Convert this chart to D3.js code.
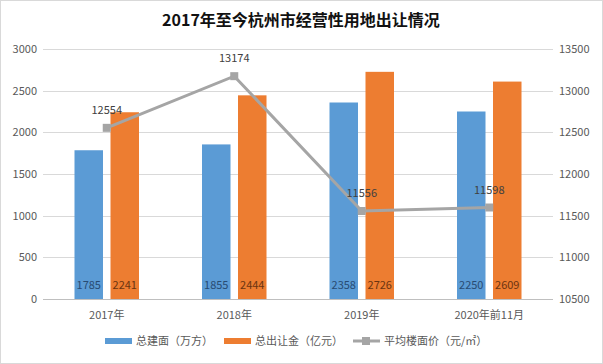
<!DOCTYPE html>
<html>
<head>
<meta charset="utf-8">
<script src="https://cdn.jsdelivr.net/npm/d3@7"></script>
<style>
  body { margin: 0; background: #fff; }
  svg text { font-family: "Noto Sans CJK SC", "DejaVu Sans", sans-serif; }
</style>
</head>
<body>
<svg class="chart" width="603" height="364"></svg>
<script>
// 数据
var categories = ['2017年', '2018年', '2019年', '2020年前11月'];
var area = [1785, 1855, 2358, 2250];      // 总建面（万方）
var money = [2241, 2444, 2726, 2609];     // 总出让金（亿元）
var price = [12554, 13174, 11556, 11598]; // 平均楼面价（元/㎡）
var leftTicks = [0, 500, 1000, 1500, 2000, 2500, 3000];
var rightTicks = [10500, 11000, 11500, 12000, 12500, 13000, 13500];

var svg = d3.select('svg.chart');
var m = { left: 43, right: 553, top: 49, bottom: 299 };

var x = d3.scaleBand().domain(categories).range([m.left, m.right]);
var yL = d3.scaleLinear().domain([0, 3000]).range([m.bottom, m.top]);
var yR = d3.scaleLinear().domain([10500, 13500]).range([m.bottom, m.top]);

var barW = 28.5, gap = 7.5;

// 外框
svg.append('rect')
    .attr('x', 0.5).attr('y', 0.5)
    .attr('width', 602).attr('height', 363)
    .attr('fill', '#fff')
    .attr('stroke', '#d9d9d9');

// 标题
svg.append('text')
    .attr('x', 301).attr('y', 26)
    .attr('text-anchor', 'middle')
    .attr('font-size', 16)
    .attr('font-weight', 'bold')
    .attr('fill', '#111')
    .text('2017年至今杭州市经营性用地出让情况');

// 网格线
svg.append('g')
    .selectAll('line')
    .data(leftTicks)
    .enter()
    .append('line')
    .attr('x1', m.left).attr('x2', m.right)
    .attr('y1', function (d) { return Math.round(yL(d)) + 0.5; })
    .attr('y2', function (d) { return Math.round(yL(d)) + 0.5; })
    .attr('stroke', function (d) { return d === 0 ? '#bfbfbf' : '#d9d9d9'; })
    .attr('stroke-width', 1);

// 左轴
var axisL = svg.append('g')
    .attr('transform', 'translate(' + (m.left - 6) + ',0)')
    .call(d3.axisLeft(yL).tickValues(leftTicks).tickFormat(d3.format('d')).tickSize(0).tickPadding(0));
axisL.select('.domain').remove();
axisL.selectAll('text').attr('font-size', 11).attr('fill', '#595959');

// 右轴
var axisR = svg.append('g')
    .attr('transform', 'translate(' + (m.right + 6) + ',0)')
    .call(d3.axisRight(yR).tickValues(rightTicks).tickFormat(d3.format('d')).tickSize(0).tickPadding(0));
axisR.select('.domain').remove();
axisR.selectAll('text').attr('font-size', 11).attr('fill', '#595959');

// X轴
var axisX = svg.append('g')
    .attr('transform', 'translate(0,' + (m.bottom + 4) + ')')
    .call(d3.axisBottom(x).tickSize(0).tickPadding(8));
axisX.select('.domain').remove();
axisX.selectAll('text').attr('font-size', 11).attr('fill', '#595959');

function cx(d, i) { return x(categories[i]) + x.bandwidth() / 2; }

// 柱子
svg.append('g')
    .selectAll('rect')
    .data(area)
    .enter()
    .append('rect')
    .attr('x', function (d, i) { return cx(d, i) - gap / 2 - barW; })
    .attr('y', function (d) { return yL(d); })
    .attr('width', barW)
    .attr('height', function (d) { return m.bottom - yL(d); })
    .attr('fill', '#5b9bd5');

svg.append('g')
    .selectAll('rect')
    .data(money)
    .enter()
    .append('rect')
    .attr('x', function (d, i) { return cx(d, i) + gap / 2; })
    .attr('y', function (d) { return yL(d); })
    .attr('width', barW)
    .attr('height', function (d) { return m.bottom - yL(d); })
    .attr('fill', '#ed7d31');

// 柱内数值
svg.append('g')
    .selectAll('text')
    .data(area)
    .enter()
    .append('text')
    .attr('x', function (d, i) { return cx(d, i) - gap / 2 - barW / 2; })
    .attr('y', m.bottom - 10)
    .attr('text-anchor', 'middle')
    .attr('font-size', 11)
    .attr('fill', '#284b73')
    .text(function (d) { return d; });

svg.append('g')
    .selectAll('text')
    .data(money)
    .enter()
    .append('text')
    .attr('x', function (d, i) { return cx(d, i) + gap / 2 + barW / 2; })
    .attr('y', m.bottom - 10)
    .attr('text-anchor', 'middle')
    .attr('font-size', 11)
    .attr('fill', '#6b3410')
    .text(function (d) { return d; });

// 折线
var line = d3.line()
    .x(function (d, i) { return cx(d, i); })
    .y(function (d) { return yR(d); });

svg.append('path')
    .datum(price)
    .attr('d', line)
    .attr('fill', 'none')
    .attr('stroke', '#a5a5a5')
    .attr('stroke-width', 3);

svg.append('g')
    .selectAll('rect')
    .data(price)
    .enter()
    .append('rect')
    .attr('x', function (d, i) { return cx(d, i) - 4; })
    .attr('y', function (d) { return yR(d) - 4; })
    .attr('width', 8).attr('height', 8)
    .attr('fill', '#a5a5a5');

svg.append('g')
    .selectAll('text')
    .data(price)
    .enter()
    .append('text')
    .attr('x', function (d, i) { return cx(d, i); })
    .attr('y', function (d) { return yR(d) - 14; })
    .attr('text-anchor', 'middle')
    .attr('font-size', 11)
    .attr('fill', '#404040')
    .text(function (d) { return d; });

// 图例
var legend = svg.append('g').attr('transform', 'translate(0,341)');
legend.append('rect').attr('x', 105).attr('y', -3).attr('width', 27).attr('height', 6).attr('fill', '#5b9bd5');
legend.append('text').attr('x', 136).attr('y', 4).attr('font-size', 11).attr('fill', '#595959').text('总建面（万方）');
legend.append('rect').attr('x', 224).attr('y', -3).attr('width', 27).attr('height', 6).attr('fill', '#ed7d31');
legend.append('text').attr('x', 255).attr('y', 4).attr('font-size', 11).attr('fill', '#595959').text('总出让金（亿元）');
legend.append('line').attr('x1', 353).attr('x2', 380).attr('y1', 0).attr('y2', 0).attr('stroke', '#a5a5a5').attr('stroke-width', 3);
legend.append('rect').attr('x', 362).attr('y', -4).attr('width', 8).attr('height', 8).attr('fill', '#a5a5a5');
legend.append('text').attr('x', 384).attr('y', 4).attr('font-size', 11).attr('fill', '#595959').text('平均楼面价（元/㎡）');
</script>
</body>
</html>
